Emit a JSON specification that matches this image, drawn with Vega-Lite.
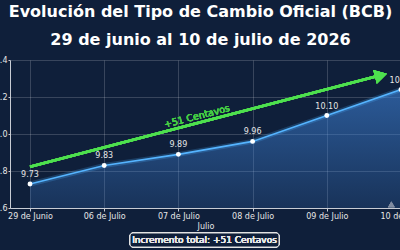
{
  "$schema": "https://vega.github.io/schema/vega-lite/v6.json",
  "autosize": {"type": "none"},
  "width": 391,
  "height": 148,
  "padding": {"left": 10, "top": 60, "right": 0, "bottom": 42},
  "background": "#0f1f3a",
  "title": {
    "text": ["Evolución del Tipo de Cambio Oficial (BCB)", "29 de junio al 10 de julio de 2026"],
    "font": "DejaVu Sans",
    "fontSize": 16,
    "fontWeight": "bold",
    "color": "#ffffff",
    "lineHeight": 28.5,
    "offset": 8,
    "anchor": "middle",
    "dx": -5
  },
  "config": {
    "view": {"stroke": null},
    "font": "DejaVu Sans",
    "axis": {
      "domainColor": "#c8ccd4",
      "domainWidth": 1,
      "tickColor": "#c8ccd4",
      "tickSize": 3,
      "grid": true,
      "gridColor": "#ffffff",
      "gridOpacity": 0.22,
      "gridWidth": 0.8,
      "labelColor": "#e6e6e6",
      "labelFont": "DejaVu Sans",
      "labelFontSize": 8,
      "labelOverlap": false,
      "titleColor": "#e6e6e6",
      "titleFont": "DejaVu Sans",
      "titleFontSize": 8,
      "titleFontWeight": "normal"
    },
    "axisY": {"tickCount": 5, "labelPadding": 1, "tickSize": 2},
    "axisX": {"tickCount": 6, "labelPadding": 1, "titlePadding": 2, "labelFlush": false}
  },
  "data": {
    "values": [
      {"orden": 0, "fecha": "29 de Junio", "valor": 9.73},
      {"orden": 1, "fecha": "06 de Julio", "valor": 9.83},
      {"orden": 2, "fecha": "07 de Julio", "valor": 9.89},
      {"orden": 3, "fecha": "08 de Julio", "valor": 9.96},
      {"orden": 4, "fecha": "09 de Julio", "valor": 10.10},
      {"orden": 5, "fecha": "10 de Julio", "valor": 10.24}
    ]
  },
  "layer": [
    {
      "mark": {
        "type": "area",
        "color": {
          "gradient": "linear",
          "x1": 0, "y1": 0, "x2": 0, "y2": 1,
          "stops": [
            {"offset": 0, "color": "rgba(62,130,215,0.6)"},
            {"offset": 1, "color": "rgba(62,130,215,0.2)"}
          ]
        }
      },
      "encoding": {
        "x": {
          "field": "orden",
          "type": "quantitative",
          "scale": {"domain": [-0.2695, 5], "nice": false, "zero": false},
          "axis": {
            "values": [0, 1, 2, 3, 4, 5],
            "labelExpr": "['29 de Junio','06 de Julio','07 de Julio','08 de Julio','09 de Julio','10 de Julio'][datum.value]",
            "title": "Julio"
          }
        },
        "y": {
          "field": "valor",
          "type": "quantitative",
          "scale": {"domain": [9.6, 10.4], "nice": false, "zero": false},
          "axis": {
            "values": [9.6, 9.8, 10.0, 10.2, 10.4],
            "format": ".1f",
            "title": null
          }
        },
        "y2": {"datum": 9.6}
      }
    },
    {
      "mark": {"type": "line", "color": "#4fb0ff", "strokeWidth": 5, "opacity": 0.22},
      "encoding": {
        "x": {"field": "orden", "type": "quantitative"},
        "y": {"field": "valor", "type": "quantitative"}
      }
    },
    {
      "mark": {"type": "line", "color": "#55b4ff", "strokeWidth": 1.6},
      "encoding": {
        "x": {"field": "orden", "type": "quantitative"},
        "y": {"field": "valor", "type": "quantitative"}
      }
    },
    {
      "mark": {"type": "point", "filled": true, "color": "#ffffff", "size": 24, "opacity": 1},
      "encoding": {
        "x": {"field": "orden", "type": "quantitative"},
        "y": {"field": "valor", "type": "quantitative"}
      }
    },
    {
      "mark": {"type": "text", "color": "#e6e6e6", "fontSize": 8, "fontWeight": "normal", "dy": -9, "font": "DejaVu Sans"},
      "encoding": {
        "x": {"field": "orden", "type": "quantitative"},
        "y": {"field": "valor", "type": "quantitative"},
        "text": {"field": "valor", "type": "quantitative", "format": ".2f"}
      }
    },
    {
      "mark": {"type": "point", "shape": "triangle-up", "filled": true, "color": "#7f8ba0", "size": 45, "opacity": 0.8},
      "encoding": {
        "x": {"datum": 4.87},
        "y": {"datum": 9.62}
      }
    },
    {
      "mark": {"type": "rule", "color": "#4ee04e", "strokeWidth": 2.5},
      "encoding": {
        "x": {"datum": 0},
        "y": {"datum": 9.823},
        "x2": {"datum": 4.75},
        "y2": {"datum": 10.32}
      }
    },
    {
      "mark": {"type": "point", "shape": "triangle-right", "filled": true, "color": "#4ee04e", "size": 200, "angle": -14.6, "opacity": 1},
      "encoding": {
        "x": {"datum": 4.73},
        "y": {"datum": 10.317}
      }
    },
    {
      "mark": {"type": "text", "text": "+51 Centavos", "color": "#45cc45", "fontSize": 9.5, "fontWeight": "normal", "angle": -14.6, "font": "DejaVu Sans"},
      "encoding": {
        "x": {"datum": 2.25},
        "y": {"datum": 10.095}
      }
    },
    {
      "mark": {"type": "rect", "fill": "#0f1f3a", "stroke": "#e6e6e6", "strokeWidth": 1, "cornerRadius": 3},
      "encoding": {
        "x": {"datum": 1.348},
        "x2": {"datum": 3.356},
        "y": {"datum": 9.465},
        "y2": {"datum": 9.389}
      }
    },
    {
      "mark": {"type": "text", "text": "Incremento total: +51 Centavos", "color": "#e8e8e8", "fontSize": 9, "fontWeight": "normal", "font": "DejaVu Sans"},
      "encoding": {
        "x": {"datum": 2.352},
        "y": {"datum": 9.427}
      }
    }
  ]
}
